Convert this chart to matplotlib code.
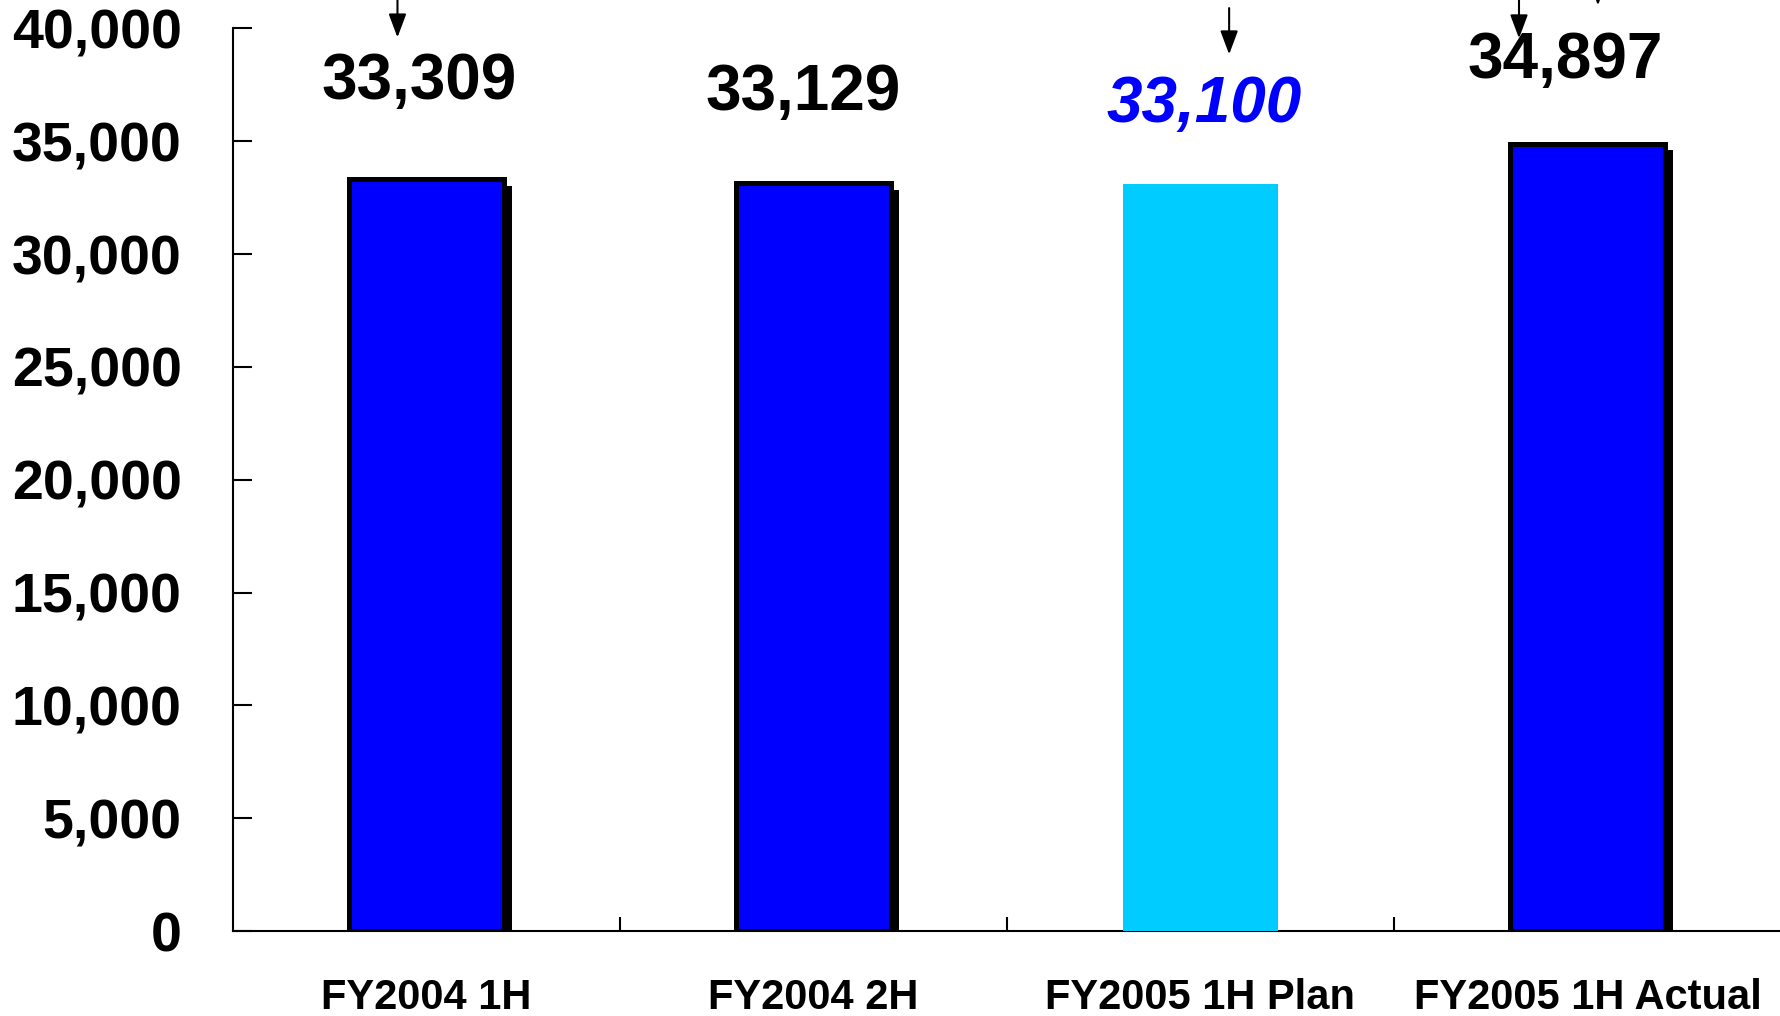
import matplotlib
matplotlib.use("Agg")
import matplotlib.pyplot as plt
from matplotlib import patheffects as pe

# Half-year figures
categories = ["FY2004 1H", "FY2004 2H", "FY2005 1H Plan", "FY2005 1H Actual"]
values = [33309, 33129, 33100, 34897]
is_plan = [False, False, True, False]
y_ticks = [0, 5000, 10000, 15000, 20000, 25000, 30000, 35000, 40000]

# Value label placement (offset above bar, horizontal nudge)
label_rise = [4320, 4010, 3510, 3660]
label_nudge = [-0.02, -0.026, 0.01, -0.059]

# Pointer arrows coming in from above the plot: (x, tip value)
arrow_x = [-0.075, 2.074, 2.823, 3.027]
arrow_tip = [39600, 38850, 39560, 41020]
arrow_len = [1650, 2050, 1680, 1500]

BLUE = "#0000FF"
CYAN = "#00CCFF"

plt.rcParams["font.family"] = ["Liberation Sans", "DejaVu Sans"]
plt.rcParams["font.weight"] = "bold"

fig = plt.figure(figsize=(17.81, 10.16), dpi=100)
ax = fig.add_axes([233 / 1781, 85 / 1016, 1 - 233 / 1781, (931 - 28.4) / 1016])

x = list(range(len(categories)))
for xi, v, plan in zip(x, values, is_plan):
    if plan:
        ax.bar(xi, v, width=0.4, color=CYAN, edgecolor="none", zorder=3)
    else:
        ax.bar(xi, v, width=0.4, color=BLUE, edgecolor="black", linewidth=3.6,
               zorder=3,
               path_effects=[pe.SimplePatchShadow(offset=(6, -5), shadow_rgbFace="black", alpha=1.0),
                             pe.Normal()])

for xi, v, plan, rise, nudge in zip(x, values, is_plan, label_rise, label_nudge):
    ax.text(xi + nudge, v + rise, f"{v:,}", ha="center", va="center",
            fontsize=46, fontweight="bold",
            color=BLUE if plan else "black",
            style="italic" if plan else "normal", zorder=5)

for ax_x, tip, ln in zip(arrow_x, arrow_tip, arrow_len):
    ax.annotate("", xy=(ax_x, tip), xytext=(ax_x, tip + ln),
                arrowprops=dict(arrowstyle="-|>,head_length=0.8,head_width=0.3",
                                mutation_scale=18, lw=1.5, color="black",
                                shrinkA=0, shrinkB=0),
                annotation_clip=False)

ax.set_xlim(-0.5, len(categories) - 0.5)
ax.set_ylim(0, 40000)

ax.set_yticks(y_ticks)
ax.set_yticklabels([f"{t:,}" for t in y_ticks])
ax.tick_params(axis="y", direction="in", length=14, width=1.5, pad=37,
               labelsize=40)

ax.set_xticks(x)
ax.set_xticklabels(categories)
ax.set_xticks([i + 0.5 for i in x[:-1]], minor=True)
ax.tick_params(axis="x", which="major", length=0, pad=34, labelsize=30)
ax.tick_params(axis="x", which="minor", direction="in", length=10, width=1.5)
for lbl in ax.get_xticklabels() + ax.get_yticklabels():
    lbl.set_fontweight("bold")

for side in ("top", "right"):
    ax.spines[side].set_visible(False)
for side in ("left", "bottom"):
    ax.spines[side].set_linewidth(1.5)

fig.savefig("out.png", dpi=100)
